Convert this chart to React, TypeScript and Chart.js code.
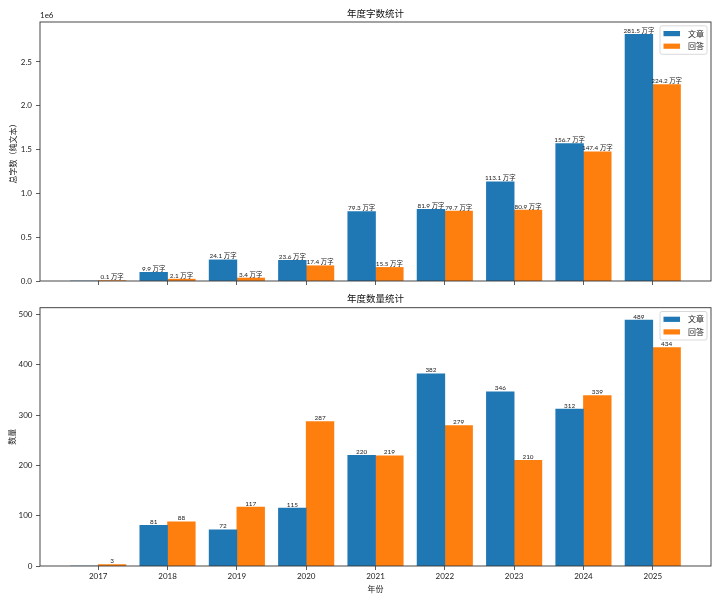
import React, { useEffect, useRef } from 'react';
import { Chart, registerables } from 'chart.js';

Chart.register(...registerables);

// ---------- data ----------
const years = ['2017', '2018', '2019', '2020', '2021', '2022', '2023', '2024', '2025'];
const seriesNames = ['文章', '回答'];
// 字数 (万字)
const wordsArticles = [0, 9.9, 24.1, 23.6, 79.3, 81.9, 113.1, 156.7, 281.5];
const wordsAnswers = [0.1, 2.1, 3.4, 17.4, 15.5, 79.7, 80.9, 147.4, 224.2];
// 数量
const countArticles = [0, 81, 72, 115, 220, 382, 346, 312, 489];
const countAnswers = [3, 88, 117, 287, 219, 279, 210, 339, 434];
// tick labels
const wordTicks = [0, 0.5, 1.0, 1.5, 2.0, 2.5]; // x 1e6
const countTicks = [0, 100, 200, 300, 400, 500];

const colors = ['#1f77b4', '#ff7f0e'];
const FONT = 'Lato, "Noto Sans CJK SC", sans-serif';
const CJK = '"Noto Sans CJK SC", sans-serif';
const BAR_W = 0.4;
const X_MIN = -0.84;
const X_MAX = 8.84;

function makeDatasets(a: number[], b: number[], mult: number) {
  return [a, b].map((vals, k) => ({
    label: seriesNames[k],
    data: vals.map((v, i) => ({ x: i + (k === 0 ? -BAR_W / 2 : BAR_W / 2), y: v * mult })),
    backgroundColor: colors[k],
    borderWidth: 0,
    grouped: false,
    barPercentage: 1,
    categoryPercentage: 1,
  }));
}

function labelPlugin(values: number[][], fmt: (v: number) => string) {
  return {
    id: 'barLabels',
    afterDatasetsDraw(chart: any) {
      const ctx = chart.ctx;
      ctx.save();
      ctx.font = `6.4px ${FONT}`;
      ctx.fillStyle = '#222';
      ctx.textAlign = 'center';
      ctx.textBaseline = 'bottom';
      chart.data.datasets.forEach((_ds: any, di: number) => {
        const meta = chart.getDatasetMeta(di);
        meta.data.forEach((el: any, i: number) => {
          const v = values[di][i];
          if (!v) return;
          ctx.fillText(fmt(v), el.x, el.y - 0.3);
        });
      });
      ctx.restore();
    },
  };
}

function framePlugin(offsetText?: string) {
  return {
    id: 'frame',
    afterDraw(chart: any) {
      const { ctx, chartArea: a } = chart;
      ctx.save();
      ctx.strokeStyle = '#333';
      ctx.lineWidth = 0.9;
      ctx.strokeRect(a.left, a.top, a.right - a.left, a.bottom - a.top);
      if (offsetText) {
        ctx.font = `8px ${FONT}`;
        ctx.fillStyle = '#222';
        ctx.textAlign = 'left';
        ctx.textBaseline = 'bottom';
        ctx.fillText(offsetText, a.left, a.top - 2.5);
      }
      // legend inside chart area, top-right
      const w = 47;
      const h = 28.5;
      const x0 = a.right - 4 - w;
      const y0 = a.top + 3.8;
      ctx.fillStyle = 'rgba(255,255,255,0.85)';
      ctx.strokeStyle = '#d0d0d0';
      ctx.lineWidth = 0.8;
      ctx.beginPath();
      (ctx as any).roundRect(x0, y0, w, h, 2);
      ctx.fill();
      ctx.stroke();
      ctx.font = `8px ${CJK}`;
      ctx.textBaseline = 'middle';
      ctx.textAlign = 'left';
      chart.data.datasets.forEach((ds: any, k: number) => {
        const cy = y0 + 7.8 + k * 12.6;
        ctx.fillStyle = ds.backgroundColor;
        ctx.fillRect(x0 + 3.5, cy - 2.6, 16.5, 5.2);
        ctx.fillStyle = '#222';
        ctx.fillText(ds.label, x0 + 28, cy);
      });
      ctx.restore();
    },
  };
}

function baseOptions(opts: {
  title: string;
  titlePad: { top: number; bottom: number };
  yTitle: string;
  yTitlePad: number;
  yMax: number;
  yTickVals: number[];
  yFmt: (v: number) => string;
  showX: boolean;
  xHeight: number;
  yTickPad: number;
}) {
  return {
    animation: false,
    responsive: false,
    events: [],
    layout: { padding: { left: 0, right: 9, top: 0, bottom: 0 } },
    plugins: {
      legend: { display: false },
      tooltip: { enabled: false },
      title: {
        display: true,
        text: opts.title,
        fullSize: false,
        color: '#111',
        font: { family: CJK, size: 9.5, weight: 'normal', lineHeight: 1.2 },
        padding: opts.titlePad,
      },
    },
    scales: {
      x: {
        type: 'linear',
        offset: false,
        min: X_MIN,
        max: X_MAX,
        afterBuildTicks: (s: any) => {
          s.ticks = years.map((_y, i) => ({ value: i }));
        },
        afterFit: (s: any) => {
          s.height = opts.xHeight;
        },
        ticks: {
          display: true,
          autoSkip: false,
          maxRotation: 0,
          padding: 2,
          color: '#222',
          font: { family: FONT, size: 8 },
          callback: (v: number) => (opts.showX ? years[Math.round(v)] ?? '' : ''),
        },
        grid: {
          display: true,
          offset: false,
          drawOnChartArea: false,
          drawTicks: true,
          tickLength: 4,
          color: '#333',
          lineWidth: 0.8,
        },
        border: { display: false },
        title: opts.showX
          ? {
              display: true,
              text: '年份',
              color: '#222',
              font: { family: CJK, size: 8, lineHeight: 1.2 },
              padding: { top: 0, bottom: 6.2 },
            }
          : { display: false },
      },
      y: {
        type: 'linear',
        min: 0,
        max: opts.yMax,
        afterBuildTicks: (s: any) => {
          s.ticks = opts.yTickVals.map((v) => ({ value: v }));
        },
        afterFit: (s: any) => {
          s.width = 40;
        },
        ticks: {
          padding: opts.yTickPad,
          color: '#222',
          font: { family: FONT, size: 8 },
          callback: (v: number) => opts.yFmt(v),
        },
        grid: { display: true, drawOnChartArea: false, drawTicks: true, tickLength: 4, color: '#333', lineWidth: 0.8 },
        border: { display: false },
        title: {
          display: true,
          text: opts.yTitle,
          color: '#222',
          font: { family: CJK, size: 8, lineHeight: 1.2 },
          padding: { top: opts.yTitlePad, bottom: 0 },
        },
      },
    },
  } as any;
}

export default function App() {
  const topRef = useRef<HTMLCanvasElement | null>(null);
  const botRef = useRef<HTMLCanvasElement | null>(null);

  useEffect(() => {
    const maxWords = Math.max(...wordsArticles, ...wordsAnswers) * 1e4 * 1.05;
    const maxCount = Math.max(...countArticles, ...countAnswers) * 1.05;

    const top = new Chart(topRef.current as HTMLCanvasElement, {
      type: 'bar',
      data: { datasets: makeDatasets(wordsArticles, wordsAnswers, 1e4) as any },
      options: baseOptions({
        title: '年度字数统计',
        titlePad: { top: 7.8, bottom: 2.8 },
        yTitle: '总字数（纯文本）',
        yTitlePad: 8.6,
        yMax: maxWords,
        yTickVals: wordTicks.map((t) => t * 1e6),
        yFmt: (v) => (v / 1e6).toFixed(1),
        showX: false,
        xHeight: 9,
        yTickPad: 4,
      }),
      plugins: [labelPlugin([wordsArticles, wordsAnswers], (v) => `${v.toFixed(1)} 万字`), framePlugin('1e6')],
    });

    const bot = new Chart(botRef.current as HTMLCanvasElement, {
      type: 'bar',
      data: { datasets: makeDatasets(countArticles, countAnswers, 1) as any },
      options: baseOptions({
        title: '年度数量统计',
        titlePad: { top: 2.3, bottom: 4.0 },
        yTitle: '数量',
        yTitlePad: 7.0,
        yMax: maxCount,
        yTickVals: countTicks,
        yFmt: (v) => String(v),
        showX: true,
        xHeight: 34,
        yTickPad: 3.5,
      }),
      plugins: [labelPlugin([countArticles, countAnswers], (v) => String(v)), framePlugin()],
    });

    return () => {
      top.destroy();
      bot.destroy();
    };
  }, []);

  return (
    <div style={{ position: 'absolute', left: 0, top: 0, width: 720, height: 600, background: '#fff' }}>
      <canvas ref={topRef} width={720} height={290} style={{ position: 'absolute', left: 0, top: 0 }} />
      <canvas ref={botRef} width={720} height={310} style={{ position: 'absolute', left: 0, top: 290 }} />
    </div>
  );
}
